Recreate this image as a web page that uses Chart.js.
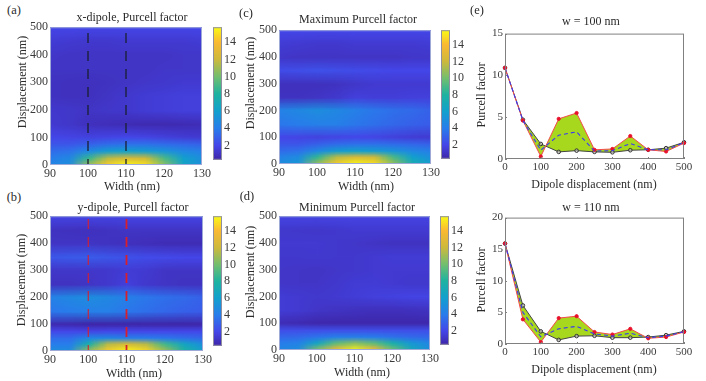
<!DOCTYPE html>
<html>
<head>
<meta charset="utf-8">
<script src="https://cdn.jsdelivr.net/npm/chart.js@4"></script>
<style>
  html, body { margin: 0; padding: 0; background: #fff; }
  #page { position: relative; width: 706px; height: 381px; overflow: hidden; }
  canvas { position: absolute; }
  .txt { position: absolute; font-family: "Liberation Serif", serif; color: #2b2b2b; white-space: nowrap; transform: translate(-50%, -50%); }
</style>
</head>
<body>
<div id="page"></div>
<script>
// axes
const widths = [90, 95, 100, 105, 110, 115, 120, 125, 130];
const rowDisp = [0, 25, 50, 75, 100, 150, 200, 250, 300, 350, 400, 450, 500];
const dipoleDisp = [0, 50, 100, 150, 200, 250, 300, 350, 400, 450, 500];
const colorTicks = [2, 4, 6, 8, 10, 12, 14];
const colorMin = 0.34;
const colorMax = 15.74;

// heatmaps, one row per rowDisp entry, one value per width
const xDipole = [
  [4.5, 5.0, 11.0, 14.5, 15.7, 15.0, 10.5, 6.5, 5.0],
  [4.0, 4.6, 8.5, 11.5, 12.5, 12.0, 9.0, 6.0, 5.0],
  [3.4, 3.6, 4.7, 5.8, 6.1, 5.8, 5.3, 4.6, 4.2],
  [2.6, 2.6, 3.0, 3.4, 3.6, 3.6, 3.4, 3.2, 3.0],
  [2.0, 1.9, 1.8, 1.9, 2.0, 1.9, 1.7, 1.5, 1.4],
  [1.4, 1.2, 0.9, 0.8, 0.7, 0.6, 0.6, 0.65, 0.75],
  [1.3, 1.2, 1.1, 1.2, 1.3, 1.5, 1.6, 1.7, 1.7],
  [1.0, 0.95, 0.95, 1.1, 1.3, 1.5, 1.6, 1.7, 1.7],
  [1.0, 0.95, 0.9, 1.0, 1.1, 1.2, 1.3, 1.4, 1.4],
  [1.1, 1.1, 1.1, 1.1, 1.1, 1.1, 1.2, 1.2, 1.2],
  [1.2, 1.1, 1.1, 1.1, 1.1, 1.1, 1.1, 1.2, 1.2],
  [1.5, 1.4, 1.3, 1.3, 1.4, 1.4, 1.4, 1.4, 1.5],
  [2.0, 2.0, 2.0, 2.0, 2.0, 2.0, 2.0, 2.0, 2.0],
];
const yDipole = [
  [5.0, 5.0, 11.0, 14.5, 15.7, 14.8, 11.0, 8.0, 6.0],
  [4.0, 4.0, 7.5, 11.5, 12.5, 11.5, 8.8, 6.5, 5.0],
  [3.4, 3.4, 4.6, 4.6, 4.2, 4.0, 3.8, 3.5, 3.2],
  [2.0, 2.0, 1.9, 2.0, 2.0, 2.0, 2.0, 2.0, 2.0],
  [0.6, 0.5, 0.3, 0.3, 0.3, 0.3, 0.3, 0.35, 0.4],
  [3.8, 4.0, 4.2, 4.2, 3.8, 3.5, 3.2, 3.0, 2.8],
  [4.3, 4.6, 4.9, 4.6, 4.2, 3.8, 3.5, 3.3, 3.0],
  [1.0, 1.0, 1.1, 1.3, 1.7, 1.3, 1.1, 1.0, 1.0],
  [1.2, 1.2, 1.2, 1.3, 1.5, 1.4, 1.1, 1.1, 1.1],
  [2.6, 2.7, 2.75, 2.6, 2.4, 2.2, 2.1, 2.0, 2.0],
  [1.1, 1.1, 1.1, 1.0, 0.9, 0.8, 0.7, 0.7, 0.7],
  [1.0, 0.95, 0.9, 1.0, 1.1, 1.1, 1.1, 1.1, 1.1],
  [1.9, 1.9, 1.9, 1.9, 1.9, 1.9, 1.9, 1.9, 1.9],
];
const maxPurcell = [
  [5.0, 5.5, 11.0, 14.5, 15.7, 15.0, 10.8, 7.5, 6.0],
  [4.3, 4.8, 8.5, 11.5, 12.5, 12.0, 9.0, 6.0, 5.0],
  [3.4, 3.6, 4.7, 5.8, 6.1, 5.8, 5.3, 4.6, 4.2],
  [2.6, 2.6, 3.0, 3.4, 3.6, 3.6, 3.4, 3.2, 3.0],
  [2.0, 1.9, 1.8, 1.9, 2.0, 1.9, 1.7, 1.5, 1.4],
  [3.8, 4.0, 4.2, 4.2, 3.8, 3.5, 3.2, 3.0, 2.8],
  [4.3, 4.6, 4.9, 4.6, 4.2, 3.8, 3.5, 3.3, 3.0],
  [1.0, 1.0, 1.1, 1.3, 1.7, 1.6, 1.6, 1.7, 1.7],
  [0.9, 0.9, 0.9, 1.0, 1.2, 1.4, 1.4, 1.4, 1.4],
  [2.2, 2.3, 2.4, 2.3, 2.2, 2.1, 2.0, 2.0, 2.0],
  [1.2, 1.1, 1.1, 1.1, 1.1, 1.1, 1.1, 1.2, 1.2],
  [1.5, 1.4, 1.3, 1.3, 1.4, 1.4, 1.4, 1.4, 1.5],
  [2.0, 2.0, 2.0, 2.0, 2.0, 2.0, 2.0, 2.0, 2.0],
];
const minPurcell = [
  [4.6, 5.0, 10.5, 14.0, 15.5, 14.0, 10.0, 7.0, 5.0],
  [4.0, 4.3, 6.5, 9.5, 10.5, 9.5, 7.5, 5.5, 4.5],
  [3.2, 3.3, 3.7, 4.2, 4.2, 4.0, 3.6, 3.3, 3.2],
  [2.3, 2.3, 2.3, 2.3, 2.3, 2.3, 2.3, 2.3, 2.3],
  [0.7, 0.6, 0.45, 0.45, 0.45, 0.45, 0.45, 0.45, 0.45],
  [1.5, 1.4, 1.15, 1.05, 0.95, 0.85, 0.85, 0.9, 1.0],
  [1.5, 1.4, 1.3, 1.4, 1.55, 1.7, 1.8, 1.9, 1.9],
  [1.2, 1.15, 1.15, 1.3, 1.5, 1.5, 1.4, 1.3, 1.3],
  [1.2, 1.15, 1.1, 1.2, 1.3, 1.4, 1.4, 1.4, 1.4],
  [1.3, 1.3, 1.35, 1.3, 1.3, 1.4, 1.5, 1.5, 1.5],
  [1.4, 1.4, 1.4, 1.3, 1.2, 1.1, 1.0, 1.0, 1.0],
  [1.3, 1.25, 1.2, 1.3, 1.4, 1.4, 1.4, 1.4, 1.4],
  [1.9, 1.9, 1.9, 1.9, 1.9, 1.9, 1.9, 1.9, 1.9],
];

// line plots (e)
const w100Red = [10.9, 4.6, 0.3, 4.8, 5.5, 1.1, 1.2, 2.75, 1.1, 0.9, 1.9];
const w100Black = [10.9, 4.7, 1.8, 0.85, 1.0, 0.85, 0.8, 1.05, 1.1, 1.3, 2.0];
const w100Blue = [10.9, 4.6, 1.05, 2.85, 3.25, 0.95, 1.0, 1.85, 1.1, 1.1, 1.95];
const w110Red = [15.9, 3.9, 0.3, 4.1, 4.4, 1.9, 1.5, 2.4, 0.9, 1.1, 1.9];
const w110Black = [15.9, 6.1, 2.0, 0.65, 1.25, 1.3, 1.0, 1.0, 1.1, 1.4, 2.0];
const w110Blue = [15.9, 5.0, 1.15, 2.4, 2.8, 1.6, 1.25, 1.7, 1.0, 1.25, 1.95];

const parulaStops = [
  [0, 62, 38, 168], [0.108, 68, 70, 232], [0.238, 40, 125, 235], [0.368, 18, 160, 205],
  [0.497, 30, 178, 160], [0.627, 115, 190, 110], [0.757, 205, 185, 60], [0.887, 250, 185, 50], [1, 249, 251, 21],
];

const FONT = '"Liberation Serif", serif';
const page = document.getElementById('page');

function parula(v) {
  let t = (v - colorMin) / (colorMax - colorMin);
  t = Math.max(0, Math.min(1, t));
  for (let i = 1; i < parulaStops.length; i++) {
    const a = parulaStops[i - 1], b = parulaStops[i];
    if (t <= b[0]) {
      const f = (t - a[0]) / (b[0] - a[0]);
      return [1, 2, 3].map(k => Math.round(a[k] + (b[k] - a[k]) * f));
    }
  }
  return parulaStops[parulaStops.length - 1].slice(1);
}

function addText(text, x, y, size, rotate) {
  const el = document.createElement('div');
  el.className = 'txt';
  el.textContent = text;
  el.style.left = x + 'px';
  el.style.top = y + 'px';
  el.style.fontSize = size + 'px';
  if (rotate) el.style.transform = 'translate(-50%, -50%) rotate(-90deg)';
  page.appendChild(el);
}

function addCanvas(left, top, w, h) {
  const c = document.createElement('canvas');
  c.width = w;
  c.height = h;
  c.style.left = left + 'px';
  c.style.top = top + 'px';
  c.style.width = w + 'px';
  c.style.height = h + 'px';
  page.appendChild(c);
  return c;
}

// paints the grid through the chart scales, browser smoothing does the shading
const heatPlugin = {
  id: 'heat',
  beforeDatasetsDraw(chart, args, opts) {
    const grid = opts.grid;
    if (!grid) return;
    const nRows = rowDisp.length;
    const off = document.createElement('canvas');
    off.width = widths.length;
    off.height = nRows;
    const octx = off.getContext('2d');
    const img = octx.createImageData(off.width, off.height);
    grid.forEach((row, r) => row.forEach((v, c) => {
      const col = parula(v), i = ((nRows - 1 - r) * off.width + c) * 4;
      img.data[i] = col[0]; img.data[i + 1] = col[1]; img.data[i + 2] = col[2]; img.data[i + 3] = 255;
    }));
    octx.putImageData(img, 0, 0);
    const { x, y } = chart.scales;
    const ctx = chart.ctx;
    ctx.save();
    ctx.imageSmoothingEnabled = true;
    ctx.imageSmoothingQuality = 'low';
    const x0 = x.getPixelForValue(widths[0]);
    const x1 = x.getPixelForValue(widths[widths.length - 1]);
    for (let r = 0; r < nRows - 1; r++) {
      const yBot = Math.round(y.getPixelForValue(rowDisp[r]));
      const yTop = Math.round(y.getPixelForValue(rowDisp[r + 1]));
      ctx.drawImage(off, 0.5, nRows - 2 - r + 0.5, off.width - 1, 1, x0, yTop, x1 - x0, yBot - yTop);
    }
    ctx.restore();
  },
};

const colorbarPlugin = {
  id: 'colorbar',
  beforeDatasetsDraw(chart, args, opts) {
    if (!opts.on) return;
    const y = chart.scales.y, a = chart.chartArea, ctx = chart.ctx;
    const g = ctx.createLinearGradient(0, y.getPixelForValue(colorMin), 0, y.getPixelForValue(colorMax));
    parulaStops.forEach(s => g.addColorStop(s[0], `rgb(${s[1]},${s[2]},${s[3]})`));
    ctx.fillStyle = g;
    ctx.fillRect(a.left, a.top, a.right - a.left, a.bottom - a.top);
  },
};

// box round the plot and short inward ticks, the matlab look
const boxPlugin = {
  id: 'box',
  afterDatasetsDraw(chart, args, opts) {
    const a = chart.chartArea, ctx = chart.ctx;
    ctx.save();
    ctx.strokeStyle = opts.color;
    ctx.lineWidth = 1;
    ctx.strokeRect(a.left + 0.5, a.top + 0.5, a.right - a.left - 1, a.bottom - a.top - 1);
    const len = opts.tick || 0;
    if (len) {
      ctx.beginPath();
      chart.scales.x.ticks.forEach(t => {
        const px = Math.round(chart.scales.x.getPixelForValue(t.value)) + 0.5;
        ctx.moveTo(px, a.bottom); ctx.lineTo(px, a.bottom - len);
      });
      chart.scales.y.ticks.forEach(t => {
        const py = Math.round(chart.scales.y.getPixelForValue(t.value)) + 0.5;
        ctx.moveTo(a.left, py); ctx.lineTo(a.left + len, py);
      });
      ctx.stroke();
    }
    ctx.restore();
  },
};

Chart.register(heatPlugin, colorbarPlugin, boxPlugin);

function axis(min, max, step, size, extra) {
  return Object.assign({
    type: 'linear', min, max,
    ticks: { stepSize: step, color: '#3a3a3a', font: { family: FONT, size }, padding: 2, maxRotation: 0, autoSkip: false },
    grid: { display: false, drawTicks: false },
    border: { display: false },
  }, extra);
}

function heatPanel(box, grid, lineColor, lineWidths) {
  const L = 40, B = 22, T = 8, R = 14;
  const canvas = addCanvas(box.x - L, box.y - T, box.w + L + R, box.h + T + B);
  const lines = lineColor ? [100, 110].map((w, i) => ({
    data: [{ x: w, y: 0 }, { x: w, y: 500 }],
    showLine: true, borderColor: lineColor, borderWidth: lineWidths[i], borderDash: [10, 8], borderDashOffset: 4, pointRadius: 0,
  })) : [];
  new Chart(canvas, {
    type: 'scatter',
    data: { datasets: lines },
    options: {
      responsive: false, animation: false, events: [],
      layout: { padding: { top: T, right: R, left: 0, bottom: 0 } },
      plugins: {
        legend: { display: false }, tooltip: { enabled: false },
        heat: { grid }, box: { color: '#9fa9d8', tick: 0 },
      },
      scales: {
        x: axis(90, 130, 10, 12, { afterFit: s => { s.height = B; } }),
        y: axis(0, 500, 100, 12, { afterFit: s => { s.width = L; } }),
      },
    },
  });
}

function colorbar(box) {
  const R = 24, T = 8, B = 4;
  const canvas = addCanvas(box.x, box.y - T, box.w + R, box.h + T + B);
  new Chart(canvas, {
    type: 'scatter',
    data: { datasets: [] },
    options: {
      responsive: false, animation: false, events: [],
      layout: { padding: { top: T, bottom: B, left: 0, right: 0 } },
      plugins: { legend: { display: false }, tooltip: { enabled: false }, colorbar: { on: true }, box: { color: '#8f8f9f', tick: 0 } },
      scales: {
        x: { display: false, min: 0, max: 1 },
        y: axis(colorMin, colorMax, 2, 12, {
          position: 'right',
          afterBuildTicks: s => { s.ticks = colorTicks.map(value => ({ value })); },
          afterFit: s => { s.width = R; },
        }),
      },
    },
  });
}

function linePanel(box, red, black, blue, yMax, yStep) {
  const L = 30, B = 20, T = 8, R = 14;
  const canvas = addCanvas(box.x - L, box.y - T, box.w + L + R, box.h + T + B);
  const pts = arr => arr.map((v, i) => ({ x: dipoleDisp[i], y: v }));
  new Chart(canvas, {
    type: 'scatter',
    data: {
      datasets: [
        { data: pts(blue), showLine: true, clip: false, borderColor: '#3a3af0', borderWidth: 1.1, borderDash: [4, 3], pointRadius: 0 },
        { data: pts(red), showLine: true, clip: false, borderColor: '#f4484a', borderWidth: 1, backgroundColor: '#a8d81e', fill: '+1',
          pointRadius: 1.6, pointBackgroundColor: '#e8102a', pointBorderColor: '#e8102a' },
        { data: pts(black), showLine: true, clip: false, borderColor: '#444444', borderWidth: 1, pointRadius: 1.8,
          pointBackgroundColor: 'rgba(200,200,200,0.6)', pointBorderColor: '#333333', pointBorderWidth: 1 },
      ],
    },
    options: {
      responsive: false, animation: false, events: [],
      layout: { padding: { top: T, right: R, left: 0, bottom: 0 } },
      plugins: {
        legend: { display: false }, tooltip: { enabled: false },
        filler: { drawTime: 'beforeDatasetsDraw' },
        box: { color: '#808080', tick: 2 },
      },
      scales: {
        x: axis(0, 500, 100, 11, { afterFit: s => { s.height = B; } }),
        y: axis(0, yMax, yStep, 11, { afterFit: s => { s.width = L; } }),
      },
    },
  });
}

heatPanel({ x: 50, y: 26, w: 152, h: 139 }, xDipole, '#1a2030', [1.3, 1.3]);
heatPanel({ x: 50, y: 215, w: 153, h: 136 }, yDipole, '#d8202c', [1.1, 1.8]);
heatPanel({ x: 279, y: 29, w: 152, h: 135 }, maxPurcell, null);
heatPanel({ x: 279, y: 215, w: 151, h: 135 }, minPurcell, null);

colorbar({ x: 213, y: 26, w: 9, h: 139 });
colorbar({ x: 213, y: 215, w: 9, h: 136 });
colorbar({ x: 441, y: 29, w: 9, h: 135 });
colorbar({ x: 440, y: 215, w: 9, h: 135 });

linePanel({ x: 505, y: 33, w: 179, h: 126 }, w100Red, w100Black, w100Blue, 15, 5);
linePanel({ x: 505, y: 217, w: 179, h: 127 }, w110Red, w110Black, w110Blue, 20, 5);

addText('(a)', 14, 10, 12.5);
addText('(b)', 14, 197, 12.5);
addText('(c)', 246, 13, 12.5);
addText('(d)', 247, 196, 12.5);
addText('(e)', 477, 10, 12.5);

addText('x-dipole, Purcell factor', 132, 17, 12);
addText('y-dipole, Purcell factor', 133, 207, 12);
addText('Maximum Purcell factor', 358, 19, 12);
addText('Minimum Purcell factor', 357, 207, 12);
addText('w = 100 nm', 591, 21, 12);
addText('w = 110 nm', 591, 207, 12);

addText('Width (nm)', 132, 186, 12);
addText('Width (nm)', 134, 373, 12);
addText('Width (nm)', 366, 186, 12);
addText('Width (nm)', 362, 372, 12);
addText('Dipole displacement (nm)', 594, 184, 12);
addText('Dipole displacement (nm)', 594, 369, 12);

addText('Displacement (nm)', 22, 82, 12, true);
addText('Displacement (nm)', 21, 280, 12, true);
addText('Displacement (nm)', 250, 83, 12, true);
addText('Displacement (nm)', 250, 272, 12, true);
addText('Purcell factor', 481, 95, 12, true);
addText('Purcell factor', 481, 280, 12, true);
</script>
</body>
</html>
